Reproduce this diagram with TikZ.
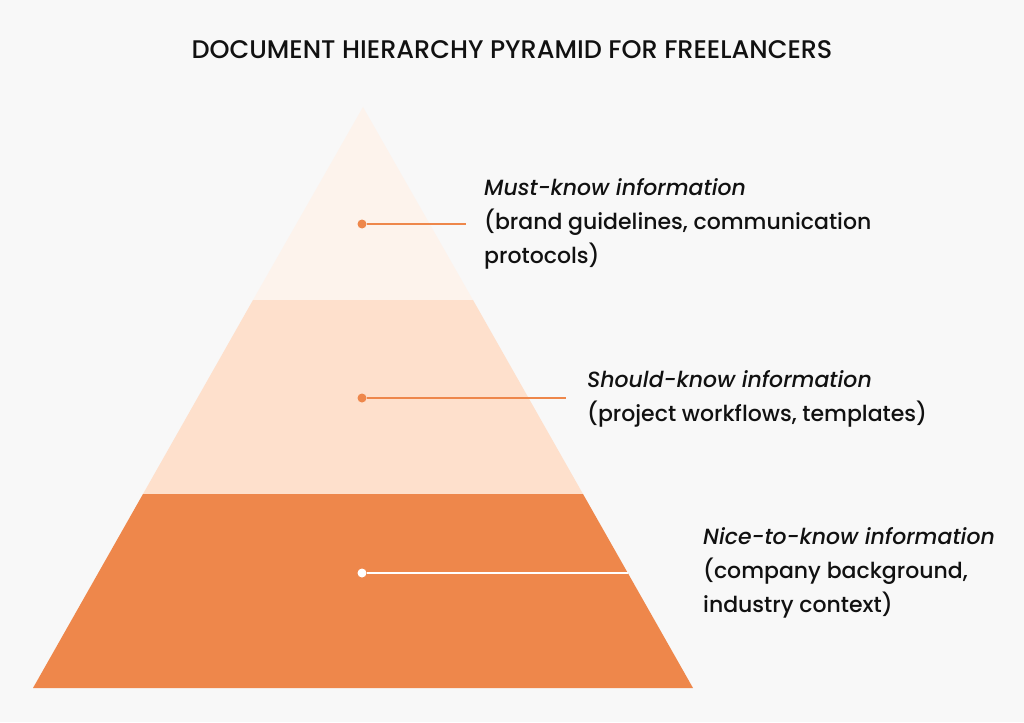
\documentclass[tikz,border=0pt]{standalone}
\usepackage{fontspec}
\setmainfont{Poppins}[UprightFont=* Medium,ItalicFont=* Medium Italic]
\definecolor{backgr}{HTML}{F8F8F8}
\definecolor{tiertop}{HTML}{FDF3EC}
\definecolor{tiermid}{HTML}{FEE0CC}
\definecolor{tierlow}{HTML}{EE874B}
\definecolor{inkcol}{HTML}{111111}

\begin{document}
\begin{tikzpicture}[x=1pt,y=-1pt]
\tikzstyle{every node}+=[inner sep=0pt]
\tikzstyle{dot}=[circle,minimum size=9pt]
\tikzstyle{tiertext}=[anchor=north west,align=left,text=inkcol,font=\fontsize{22}{34}\selectfont]
\fill [backgr] (0,0) rectangle (1024,722);
\useasboundingbox (0,0) rectangle (1024,722);
% pyramid tiers
\fill [tiertop] (363,107) -- (473,300) -- (253,300) -- cycle;
\fill [tiermid] (253,300) -- (473,300) -- (583,494) -- (143,494) -- cycle;
\fill [tierlow] (143,494) -- (583,494) -- (693,688) -- (33,688) -- cycle;
\node (title) at (512,50) [text=inkcol,font=\fontsize{25.5}{28}\selectfont] {DOCUMENT HIERARCHY PYRAMID FOR FREELANCERS};
% must-know
\node (mustdot) at (362,224) [dot,fill=tierlow] {};
\coordinate (mustend) at (466,224);
\draw [tierlow,line width=1.5pt] (mustdot) -- (mustend);
\node (musttext) at (484,178) [tiertext] {\textit{Must-know information}\\(brand guidelines, communication\\protocols)};
% should-know
\node (shoulddot) at (362,398) [dot,fill=tierlow] {};
\coordinate (shouldend) at (566,398);
\draw [tierlow,line width=1.5pt] (shoulddot) -- (shouldend);
\node (shouldtext) at (587,370) [tiertext] {\textit{Should-know information}\\(project workflows, templates)};
% nice-to-know
\node (nicedot) at (362,573) [dot,fill=white] {};
\coordinate (niceend) at (628,573);
\draw [white,line width=1.5pt] (nicedot) -- (niceend);
\node (nicetext) at (703,527) [tiertext] {\textit{Nice-to-know information}\\(company background,\\industry context)};
\end{tikzpicture}
\end{document}
